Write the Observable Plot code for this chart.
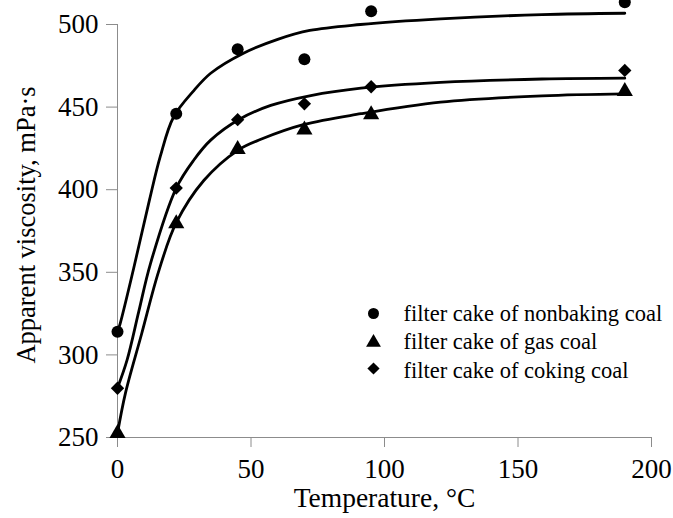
<!DOCTYPE html>
<html>
<head>
<meta charset="utf-8">
<script src="https://cdn.jsdelivr.net/npm/d3@7"></script>
<script src="https://cdn.jsdelivr.net/npm/@observablehq/plot@0.6"></script>
<style>
  html, body { margin: 0; padding: 0; background: #fff; }
  #chart { position: relative; width: 673px; height: 518px; }
  svg { font-family: "Liberation Serif", "Times New Roman", serif; }
</style>
</head>
<body>
<div id="chart"></div>
<script>
// Series names (legend)
const seriesNames = ["filter cake of nonbaking coal", "filter cake of gas coal", "filter cake of coking coal"];
const seriesSymbols = ["circle", "triangle", "diamond2"];

// Measured points
const temps = [0, 22, 45, 70, 95, 190];
const nonbaking = [314, 446, 485, 479, 508, 513.5];
const gasCoal = [252.5, 379.5, 424.5, 436.3, 445.4, 459.5];
const cokingCoal = [279.8, 401, 442.4, 452, 462.3, 472.2];

// Fitted curves
const nonbakingCurveX = [0, 1, 6, 12, 16, 21, 28.6, 34.9, 47, 60, 72, 91, 121, 159, 190];
const nonbakingCurveY = [314, 319, 352, 394, 420, 444, 460, 470.5, 482.5, 491, 496.4, 500, 503.4, 506, 506.8];
const gasCurveX = [0, 3, 9, 15.5, 22, 32.4, 45.2, 53.7, 69.9, 91.2, 121, 159, 190];
const gasCurveY = [252.5, 277, 312.5, 351, 380, 405.7, 424, 430.5, 439.5, 446, 453, 456.8, 458];
const cokingCurveX = [0, 3.6, 8, 12.3, 22, 28.6, 34.9, 45.5, 57.4, 72.4, 91.2, 121, 159, 190];
const cokingCurveY = [280, 297, 326.5, 355, 401, 418, 430, 442.5, 451, 457, 461.5, 465, 467, 467.5];

// Axis ticks
const xTicks = [0, 50, 100, 150, 200];
const yTicks = [250, 300, 350, 400, 450, 500];

const points = [
  ...temps.map((t, i) => ({series: seriesNames[0], x: t, y: nonbaking[i]})),
  ...temps.map((t, i) => ({series: seriesNames[1], x: t, y: gasCoal[i]})),
  ...temps.map((t, i) => ({series: seriesNames[2], x: t, y: cokingCoal[i]}))
];
const curves = [
  ...nonbakingCurveX.map((t, i) => ({series: seriesNames[0], x: t, y: nonbakingCurveY[i]})),
  ...gasCurveX.map((t, i) => ({series: seriesNames[1], x: t, y: gasCurveY[i]})),
  ...cokingCurveX.map((t, i) => ({series: seriesNames[2], x: t, y: cokingCurveY[i]}))
];

const axisColor = "#8c8c8c";
const legendDotDy = [289, 318, 344];
const legendTextDy = [288.8, 317.3, 345.8];
const legendMarks = seriesNames.flatMap((name, i) => [
  Plot.dot([name], {frameAnchor: "top-left", dx: 256, dy: legendDotDy[i], symbol: seriesSymbols[i], r: 5.5, fill: "black", stroke: "none"}),
  Plot.text([name], {frameAnchor: "top-left", dx: 286, dy: legendTextDy[i], text: d => d, textAnchor: "start", lineAnchor: "middle", fontSize: 22.5, fill: "black"})
]);

const plot = Plot.plot({
  width: 673,
  height: 518,
  marginLeft: 117,
  marginRight: 22,
  marginTop: 24,
  marginBottom: 81,
  style: {fontFamily: "Liberation Serif, Times New Roman, serif", background: "white"},
  x: {domain: [0, 200], ticks: xTicks},
  y: {domain: [250, 500], ticks: yTicks},
  symbol: {domain: seriesNames, range: seriesSymbols},
  marks: [
    Plot.ruleY([250], {stroke: axisColor, strokeWidth: 1}),
    Plot.ruleX([0], {stroke: axisColor, strokeWidth: 1}),
    Plot.axisX({ticks: xTicks, tickSize: 10, tickPadding: 11, stroke: axisColor, fontSize: 27, fill: "black", label: null, tickFormat: d => String(d)}),
    Plot.axisY({ticks: yTicks, tickSize: 11, tickPadding: 8, stroke: axisColor, fontSize: 27, fill: "black", label: null}),
    Plot.text(["Temperature, °C"], {frameAnchor: "bottom", dy: 61, text: d => d, lineAnchor: "middle", textAnchor: "middle", fontSize: 27.5, fill: "black"}),
    Plot.text(["Apparent viscosity, mPa·s"], {frameAnchor: "left", dx: -91, dy: -6, rotate: -90, text: d => d, lineAnchor: "middle", textAnchor: "middle", fontSize: 26.5, fill: "black"}),
    Plot.line(curves, {x: "x", y: "y", z: "series", curve: "catmull-rom", stroke: "black", strokeWidth: 2.8, clip: false}),
    Plot.dot(points, {x: "x", y: "y", symbol: "series", r: 6, fill: "black", stroke: "none"}),
    ...legendMarks
  ]
});
document.getElementById("chart").appendChild(plot);
</script>
</body>
</html>
